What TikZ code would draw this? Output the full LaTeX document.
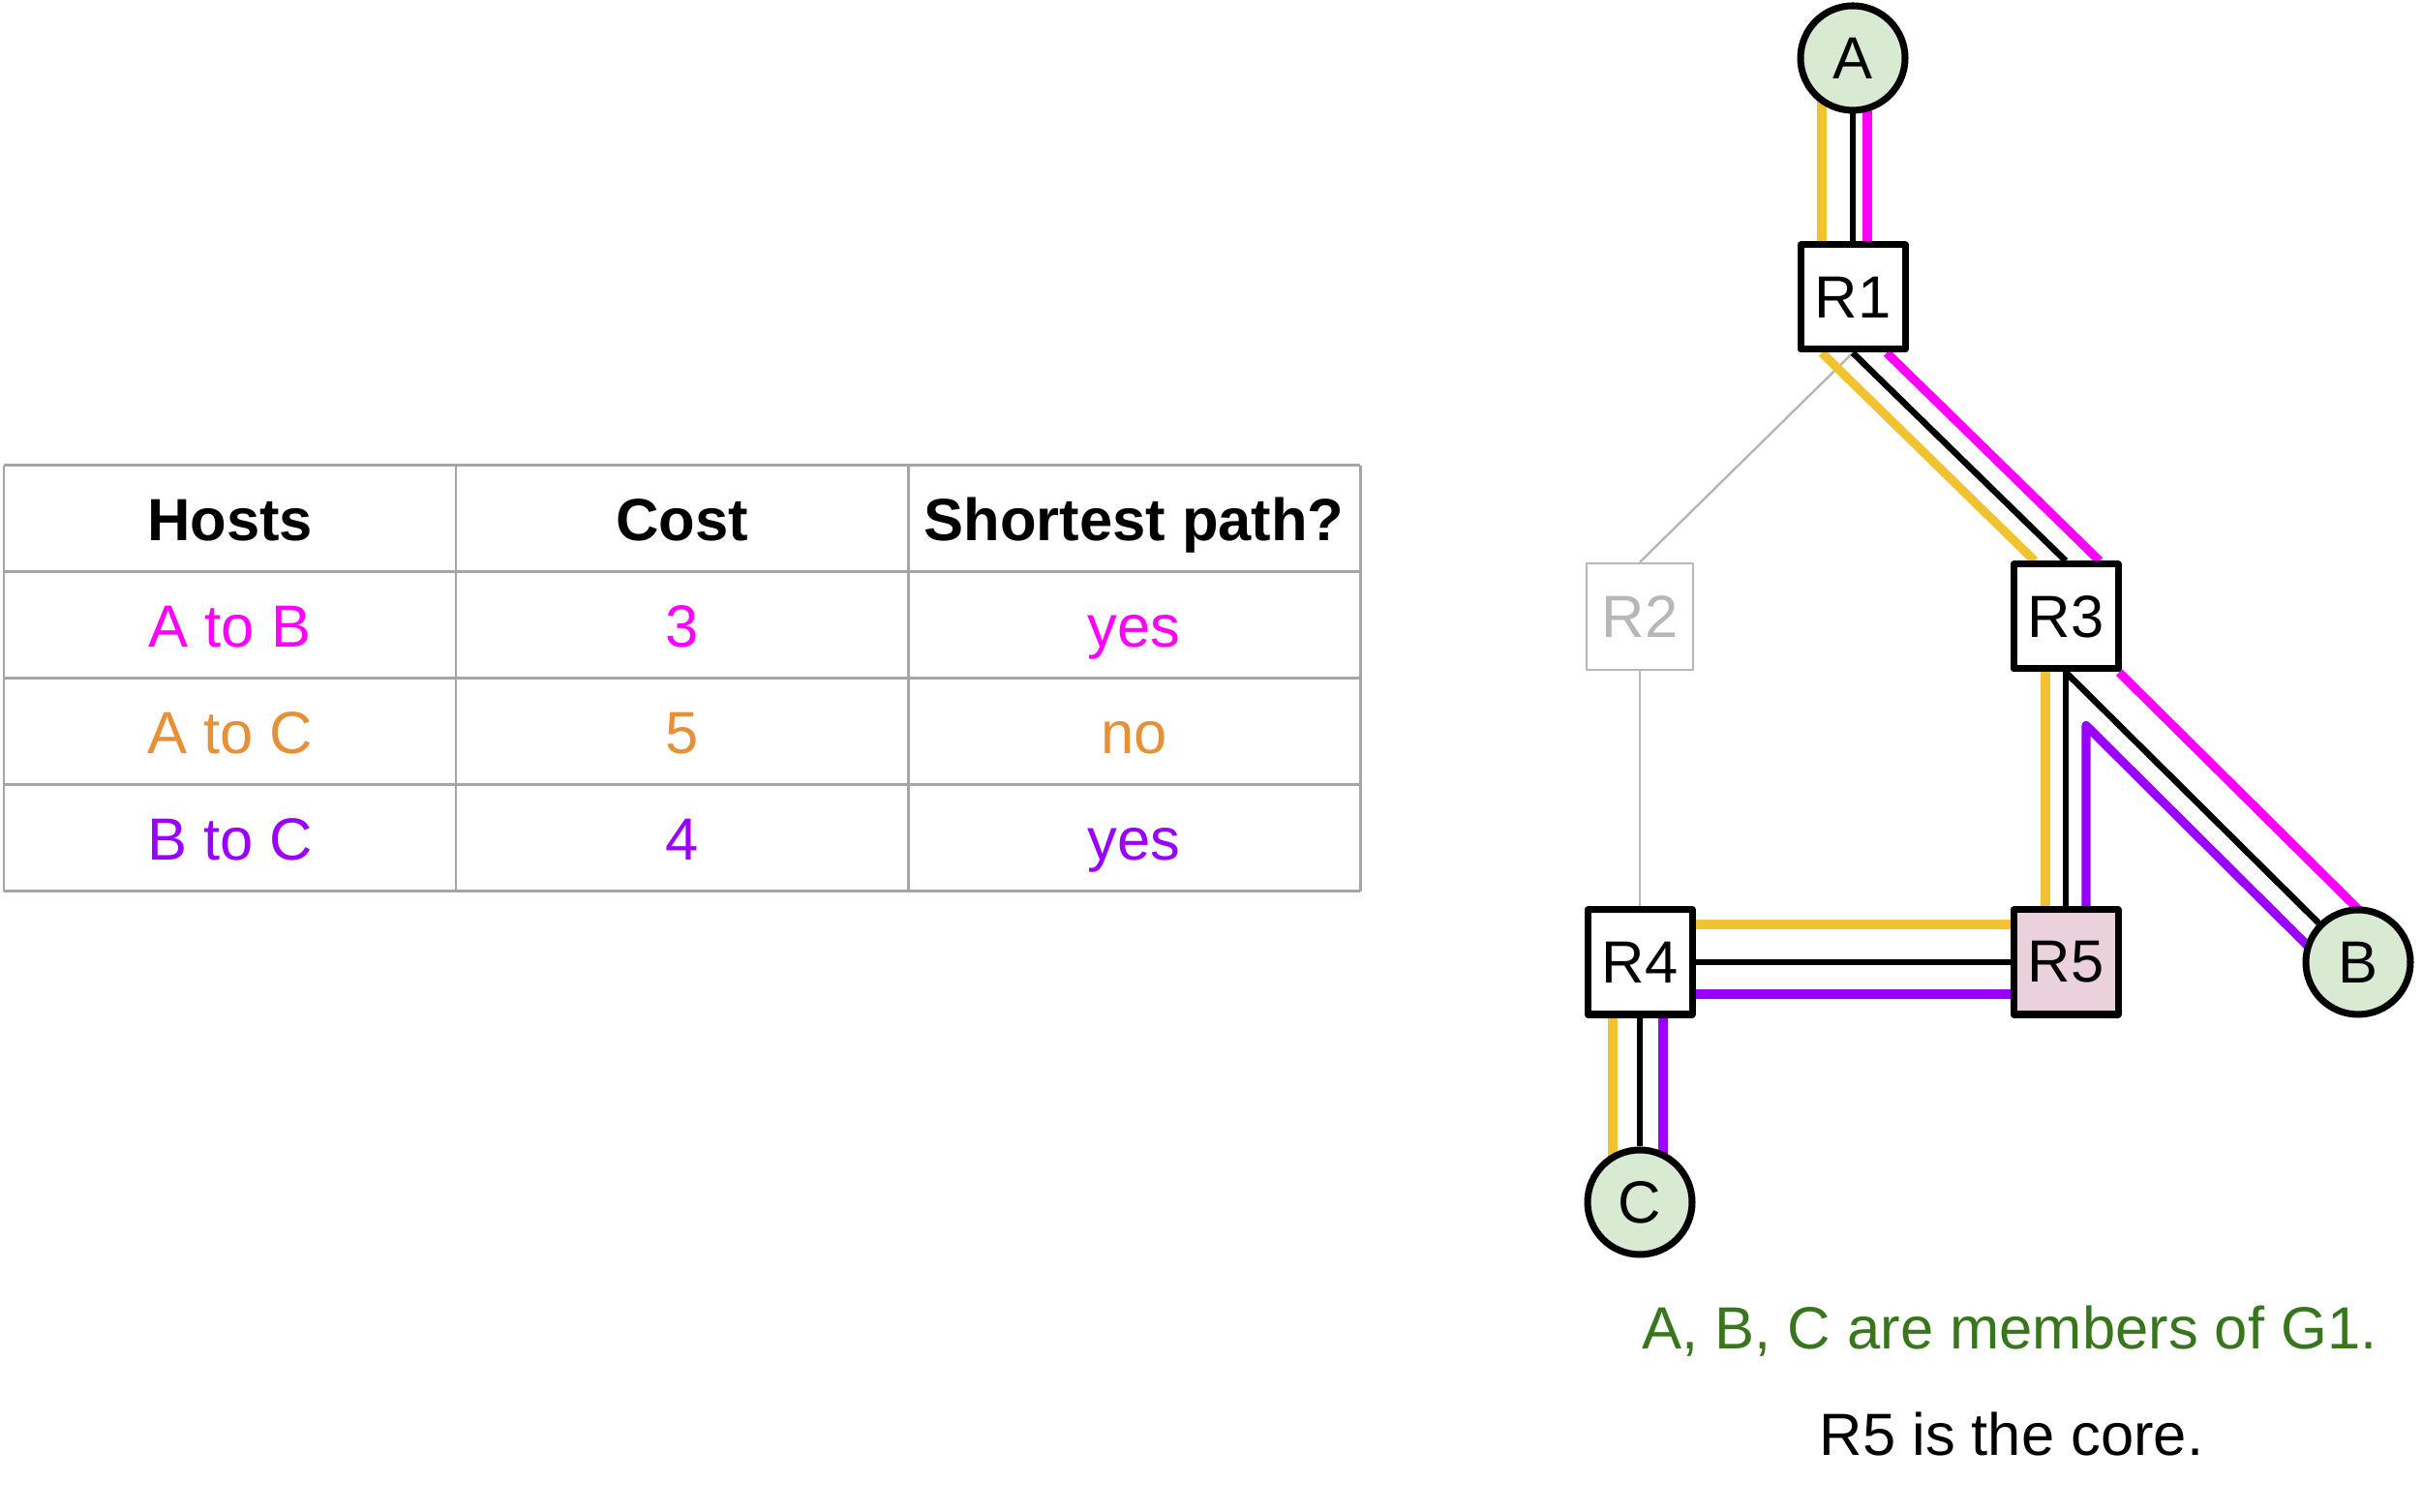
\documentclass[tikz,border=0pt]{standalone}
\usepackage{fontspec}
\setmainfont{Liberation Sans}
\usetikzlibrary{calc,backgrounds}
\definecolor{hostgreen}{HTML}{D9EAD3}
\definecolor{corepink}{HTML}{EAD1DC}
\definecolor{pathab}{HTML}{FF00FF}
\definecolor{pathac}{HTML}{F1C232}
\definecolor{pathbc}{HTML}{9900FF}
\definecolor{textac}{HTML}{E69138}
\definecolor{notegreen}{HTML}{38761D}
\definecolor{unused}{HTML}{B7B7B7}
\definecolor{gridgray}{HTML}{A5A5A5}
\begin{document}
\begin{tikzpicture}[
		font=\fontsize{17.5}{21}\selectfont,
		router/.style={draw, line width=2pt, line join=round, fill=white, minimum size=1.08cm, inner sep=0pt},
		host/.style={circle, draw, line width=2pt, fill=hostgreen, minimum size=1.08cm, inner sep=0pt},
		link/.style={line width=1.85pt},
		route/.style={line width=2.6pt, line join=round},
		gridline/.style={gridgray, line width=0.85pt},
		cell/.style={anchor=base}
	]
	\useasboundingbox (0,0) rectangle (25.02,15.62);

	\node[host] (A) at (19.14,15.02) {A};
	\node[router] (R1) at (19.14,12.55) {R1};
	\node[router, draw=unused, line width=0.7pt, text=unused, minimum size=1.1cm] (R2) at (16.94,9.25) {R2};
	\node[router] (R3) at (21.34,9.25) {R3};
	\node[router] (R4) at (16.94,5.68) {R4};
	\node[router, fill=corepink] (R5) at (21.34,5.68) {R5};
	\node[host] (B) at (24.36,5.68) {B};
	\node[host] (C) at (16.94,3.20) {C};

	\begin{scope}[on background layer]
		\draw[unused, line width=0.7pt] (R1.south) -- (R2.north);
		\draw[unused, line width=0.7pt] (R2) -- (R4);

		\draw[route, pathac] ($(A)+(-0.32,0)$) -- ($(R1)+(-0.32,0)$);
		\draw[route, pathac] ($(R1.south)+(-0.32,0)$) -- ($(R3.north)+(-0.32,0)$);
		\draw[route, pathac] ($(R3)+(-0.21,0)$) -- ($(R5)+(-0.21,0)$);
		\draw[route, pathac] ($(R4)+(0,0.39)$) -- ($(R5)+(0,0.39)$);
		\draw[route, pathac] ($(R4)+(-0.28,0)$) -- ($(C)+(-0.28,0)$);

		\draw[route, pathab] ($(A)+(0.15,0)$) -- ($(R1)+(0.15,0)$);
		\draw[route, pathab] ($(R1.south)+(0.35,0)$) -- ($(R3.north)+(0.35,0)$);
		\draw[route, pathab] ($(R3.south)+(0.55,0)$) -- ($(B)+(0.275,0.275)$);

		\draw[route, pathbc] ($(B)+(-0.175,-0.175)$) -- ($(R3.south)+(0.21,-0.55)$) -- ($(R5)+(0.21,0)$);
		\draw[route, pathbc] ($(R4)+(0,-0.33)$) -- ($(R5)+(0,-0.33)$);
		\draw[route, pathbc] ($(R4)+(0.24,0)$) -- ($(C)+(0.24,0)$);

		\draw[link] (A) -- (R1);
		\draw[link] (R1.south) -- (R3.north);
		\draw[link] (R3.south) -- (B);
		\draw[link] (R3) -- (R5);
		\draw[link] (R4) -- (R5);
		\draw[link] (R4) -- (C);
	\end{scope}

	\foreach \y in {10.81,9.71,8.61,7.51,6.41}
		\draw[gridline] (0.04,\y) -- (14.05,\y);
	\foreach \x in {0.04,4.71,9.38,14.05}
		\draw[gridline] (\x,10.81) -- (\x,6.41);

	\node[cell, font=\fontsize{17.5}{21}\selectfont\bfseries] (hostshead) at (2.375,10.03) {Hosts};
	\node[cell, font=\fontsize{17.5}{21}\selectfont\bfseries] (costhead) at (7.045,10.03) {Cost};
	\node[cell, font=\fontsize{17.5}{21}\selectfont\bfseries] (shorthead) at (11.715,10.03) {Shortest path?};
	\foreach \hosts/\cost/\short/\col [count=\r] in {A to B/3/yes/pathab, A to C/5/no/textac, B to C/4/yes/pathbc} {
		\node[cell, text=\col] (hosts\r) at (2.375,{10.03-1.1*\r}) {\hosts};
		\node[cell, text=\col] (cost\r) at (7.045,{10.03-1.1*\r}) {\cost};
		\node[cell, text=\col] (short\r) at (11.715,{10.03-1.1*\r}) {\short};
	}

	\node[cell, text=notegreen] (members) at (20.76,1.68) {A, B, C are members of G1.};
	\node[cell] (core) at (20.78,0.58) {R5 is the core.};
\end{tikzpicture}
\end{document}
